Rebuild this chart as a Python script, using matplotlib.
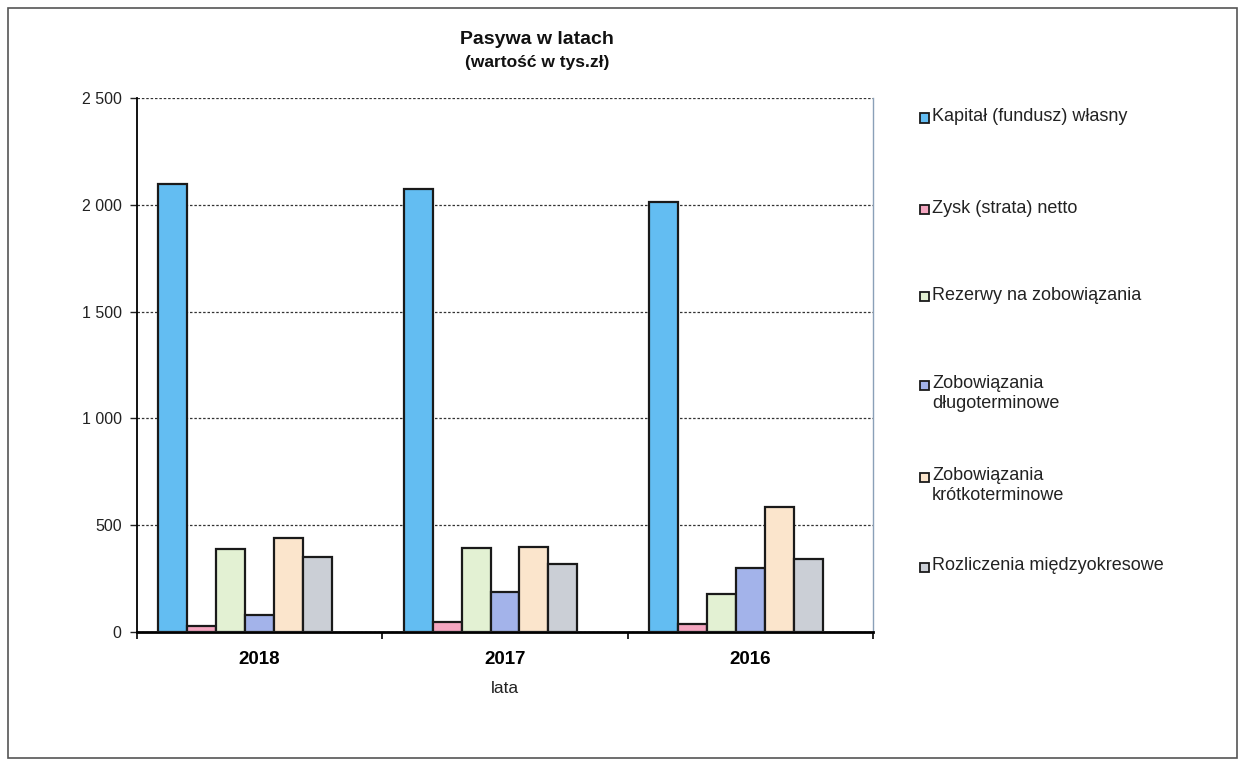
import numpy as np
import matplotlib.pyplot as plt
from matplotlib.patches import Rectangle
from matplotlib.ticker import FuncFormatter

plt.rcParams['font.family'] = ['Liberation Sans', 'DejaVu Sans']

years = ["2018", "2017", "2016"]
series = [
    "Kapitał (fundusz) własny",
    "Zysk (strata) netto",
    "Rezerwy na zobowiązania",
    "Zobowiązania\ndługoterminowe",
    "Zobowiązania\nkrótkoterminowe",
    "Rozliczenia międzyokresowe",
]
kapital = [2097, 2073, 2014]
zysk = [28, 48, 39]
rezerwy = [388, 392, 177]
zob_dlugo = [80, 189, 299]
zob_krotko = [438, 399, 583]
rozliczenia = [349, 317, 344]
values = [kapital, zysk, rezerwy, zob_dlugo, zob_krotko, rozliczenia]
colors = ["#63bdf2", "#f4a6c0", "#e3f1d3", "#a3b3ea", "#fbe5cc", "#cbcfd6"]

W, H = 1242, 759
fig = plt.figure(figsize=(W / 100, H / 100), dpi=100)
ax = fig.add_axes([137 / W, 1 - 632 / H, (873 - 137) / W, (632 - 98) / H])

# seven slots per group (last one empty), like the spreadsheet layout
nslots = 7
bw = 0.118
x = np.arange(len(years))
for i, (vals, c) in enumerate(zip(values, colors)):
    pos = x - bw * nslots / 2 + bw * (i + 0.5)
    ax.bar(pos, vals, width=bw, color=c, edgecolor="#1a1a1a", linewidth=1.6, zorder=3)

ax.set_xlim(-0.5, 2.5)
ax.set_ylim(0, 2500)
ax.set_yticks(np.arange(0, 2501, 500))
ax.yaxis.set_major_formatter(FuncFormatter(lambda v, p: f"{int(v):,}".replace(",", " ")))
ax.grid(axis="y", color="#333333", linestyle=(0, (2, 1.5)), linewidth=0.9, zorder=0)

ax.set_xticks(x)
ax.set_xticklabels(years, fontweight="bold", fontsize=13.5)
ax.set_xticks([-0.5, 0.5, 1.5, 2.5], minor=True)
ax.tick_params(axis="x", which="major", length=0, pad=14)
ax.tick_params(axis="x", which="minor", length=5, width=1.2, direction="out")
ax.tick_params(axis="y", length=5, width=1, labelsize=11.5, pad=6, colors="#222222")

ax.spines["top"].set_visible(False)
ax.spines["right"].set_color("#8aa0b8")
ax.spines["right"].set_linewidth(1.0)
ax.spines["left"].set_linewidth(1.3)
ax.spines["bottom"].set_linewidth(2.0)

ax.set_xlabel("lata", fontsize=12.5, labelpad=9, color="#222222")

fig.text(537 / W, 1 - 40 / H, "Pasywa w latach", ha="center", va="center",
         fontsize=14, fontweight="bold", color="#111111")
fig.text(537 / W, 1 - 63 / H, "(wartość w tys.zł)", ha="center", va="center",
         fontsize=12.5, fontweight="bold", color="#111111")

# legend entries on the right
leg_y = [118, 210, 297, 385, 477, 567]
for lab, c, yy in zip(series, colors, leg_y):
    fig.patches.append(Rectangle((920 / W, 1 - (yy + 4.5) / H), 9 / W, 9 / H,
                                 transform=fig.transFigure, facecolor=c,
                                 edgecolor="#1a1a1a", linewidth=1.3))
    fig.text(932 / W, 1 - (yy - 10) / H, lab, ha="left", va="top",
             fontsize=13, linespacing=1.25, color="#222222")

# outer frame
fig.patches.append(Rectangle((8 / W, 1 / H), (1237 - 8) / W, 750 / H,
                             transform=fig.transFigure, fill=False,
                             edgecolor="#555555", linewidth=1.2))

fig.savefig("out.png", dpi=100)
